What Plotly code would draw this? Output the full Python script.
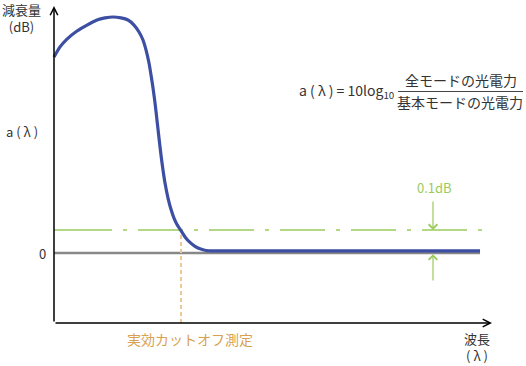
import plotly.graph_objects as go

# ---------------- data (x: wavelength, arbitrary units; y: attenuation, dB) -------------
wavelength = [0, 0.138, 0.298, 0.528, 0.757, 0.986, 1.170, 1.353, 1.537, 1.697,
              1.835, 1.950, 2.041, 2.110, 2.179, 2.225, 2.271, 2.317, 2.362, 2.408,
              2.454, 2.500, 2.546, 2.615, 2.683, 2.752, 2.821, 2.913, 3.005, 3.119,
              3.234, 3.349, 3.486, 3.693, 9.771]
attenuation = [0.852, 0.896, 0.930, 0.965, 0.991, 1.013, 1.022, 1.026, 1.022, 1.013,
               0.991, 0.961, 0.926, 0.883, 0.826, 0.774, 0.717, 0.652, 0.578, 0.500,
               0.426, 0.361, 0.304, 0.239, 0.190, 0.152, 0.124, 0.097, 0.070, 0.046,
               0.029, 0.018, 0.011, 0.009, 0.009]
threshold_db = 0.1          # 0.1 dB criterion
cutoff_wavelength = 2.913   # effective cutoff
baseline_db = 0.0
wl_end = 9.771

y_label_lines = ["減衰量", "(dB)"]
x_label_lines = ["波長", "( λ )"]
cutoff_label = "実効カットオフ測定"
threshold_label = "0.1dB"
alpha_label = "a ( λ )"
zero_label = "0"
formula_left = "a ( λ ) = 10log<sub>10</sub>"
formula_num = "全モードの光電力"
formula_den = "基本モードの光電力"

# ---------------- layout constants ----------------
W, H = 526, 366
X0, Y0 = 54, 253          # pixel of data origin
PX, PY = 43.6, 230.0      # pixels per data unit
FONT = "Noto Sans CJK JP, Noto Sans, sans-serif"
TXT = "#333333"
GREEN = "#9acb5c"
ORANGE = "#d9a14f"
ORANGE_LINE = "#ecc896"
BLUE = "#3c4fa3"

def dx(p):  # pixel -> data x
    return (p - X0) / PX

def dy(p):  # pixel -> data y
    return (Y0 - p) / PY

def px_(p):
    return p / W

def py_(p):
    return 1 - p / H

axis_y = dy(323)

fig = go.Figure()
fig.add_trace(go.Scatter(
    x=wavelength, y=attenuation, mode="lines",
    line=dict(color=BLUE, width=3.2, shape="spline", smoothing=0.6),
    hoverinfo="skip", showlegend=False))

shapes = [
    # zero line
    dict(type="line", xref="x", yref="y", x0=0, x1=wl_end, y0=baseline_db, y1=baseline_db,
         line=dict(color="#888888", width=2.5), layer="below"),
    # threshold line (first long dash, then dash-dot)
    dict(type="line", xref="x", yref="y", x0=0, x1=dx(112), y0=threshold_db, y1=threshold_db,
         line=dict(color=GREEN, width=1.5), layer="below"),
    dict(type="line", xref="x", yref="y", x0=dx(123), x1=dx(482), y0=threshold_db, y1=threshold_db,
         line=dict(color=GREEN, width=1.5, dash="4px,11px,45px,11px"), layer="below"),
    # cutoff vertical
    dict(type="line", xref="x", yref="y", x0=cutoff_wavelength, x1=cutoff_wavelength,
         y0=axis_y, y1=threshold_db,
         line=dict(color=ORANGE_LINE, width=2, dash="4px,3px"), layer="below"),
    # fraction bar
    dict(type="line", xref="paper", yref="paper", x0=px_(398), x1=px_(523), y0=py_(91.5), y1=py_(91.5),
         line=dict(color="#444444", width=1)),
]

annotations = [
    # axes
    dict(x=dx(492), y=axis_y, ax=0, ay=axis_y, xref="x", yref="y", axref="x", ayref="y",
         text="", showarrow=True, arrowhead=5, arrowsize=1, arrowwidth=1.5, arrowcolor="#000000", standoff=0),
    dict(x=0, y=dy(6), ax=0, ay=axis_y, xref="x", yref="y", axref="x", ayref="y",
         text="", showarrow=True, arrowhead=5, arrowsize=1, arrowwidth=1.5, arrowcolor="#000000", standoff=0),
    # 0.1 dB arrows
    dict(x=dx(433), y=threshold_db, ax=dx(433), ay=dy(200), xref="x", yref="y", axref="x", ayref="y",
         text="", showarrow=True, arrowhead=4, arrowsize=1.4, arrowwidth=1.2, arrowcolor=GREEN, standoff=0),
    dict(x=dx(433), y=baseline_db - 0.005, ax=dx(433), ay=dy(282), xref="x", yref="y", axref="x", ayref="y",
         text="", showarrow=True, arrowhead=4, arrowsize=1.4, arrowwidth=1.2, arrowcolor=GREEN, standoff=0),
]

def label(text, x, y, color=TXT, size=13, xanchor="center"):
    annotations.append(dict(text=text, x=px_(x), y=py_(y), xref="paper", yref="paper",
                            showarrow=False, xanchor=xanchor, yanchor="middle", borderpad=0,
                            font=dict(family=FONT, size=size, color=color)))

label("<br>".join(y_label_lines), 21, 17.5)
label(alpha_label, 22, 132)
label(zero_label, 42, 253)
label(threshold_label, 434, 187, color=GREEN)
label(cutoff_label, 190, 339, color=ORANGE, size=14)
label("<br>".join(x_label_lines), 476.5, 347)
label(formula_left, 395, 91, size=14, xanchor="right")
label(formula_num, 461, 80, size=14)
label(formula_den, 460, 102, size=14)

fig.update_layout(
    width=W, height=H, autosize=False,
    margin=dict(l=0, r=0, t=0, b=0),
    paper_bgcolor="white", plot_bgcolor="white",
    xaxis=dict(range=[dx(0), dx(W)], visible=False, fixedrange=True),
    yaxis=dict(range=[dy(H), dy(0)], visible=False, fixedrange=True),
    shapes=shapes, annotations=annotations, showlegend=False,
)

fig.write_html("out.html", config={"displayModeBar": False},
               post_script="document.body.style.margin='0px';document.body.style.overflow='hidden';")
